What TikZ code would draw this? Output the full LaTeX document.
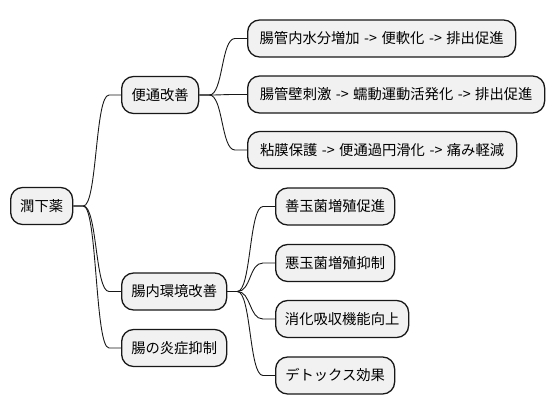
\documentclass[tikz,border=0pt]{standalone}
\usepackage{fontspec}
\setmainfont{Noto Sans CJK JP}
\usetikzlibrary{calc}
\definecolor{boxfill}{HTML}{F1F1F1}
\definecolor{boxline}{HTML}{181818}
\newcommand\arw{\hspace{4.5pt}->\hspace{4.5pt}}
\tikzset{
  mmbox/.style={draw=boxline, fill=boxfill, line width=1.3pt, rounded corners=12pt,
    minimum height=37pt, inner xsep=0pt, inner ysep=0pt, anchor=west,
    font=\fontsize{14.3pt}{17pt}\selectfont, text=black},
  edge/.style={draw=boxline, line width=0.9pt}
}
\newcommand\mmconn[2]{\draw[edge] (#1.east) -- ++(10pt,0) .. controls +(14pt,0) and +(-14pt,0) .. ($(#2.west)+(-12pt,0)$) -- (#2.west);}
\begin{document}
\begin{tikzpicture}[x=1pt,y=-1pt]
\useasboundingbox (0,0) rectangle (554,415);
\node[mmbox, minimum width=62pt] (root) at (10,206) {潤下薬};
\node[mmbox, minimum width=77pt] (a) at (121,95) {便通改善};
\node[mmbox, minimum width=105pt] (b) at (121,291.5) {腸内環境改善};
\node[mmbox, minimum width=105pt] (c) at (121,348) {腸の炎症抑制};
\node[mmbox, minimum width=268pt] (a1) at (247,38.5) {腸管内水分増加\arw 便軟化\arw 排出促進};
\node[mmbox, minimum width=297pt] (a2) at (247,94.5) {腸管壁刺激\arw 蠕動運動活発化\arw 排出促進};
\node[mmbox, minimum width=269pt] (a3) at (247,150) {粘膜保護\arw 便通過円滑化\arw 痛み軽減};
\node[mmbox, minimum width=119pt] (b1) at (275,206.5) {善玉菌増殖促進};
\node[mmbox, minimum width=119pt] (b2) at (275,263) {悪玉菌増殖抑制};
\node[mmbox, minimum width=133pt] (b3) at (275,319) {消化吸収機能向上};
\node[mmbox, minimum width=119pt] (b4) at (275,375.5) {デトックス効果};
\mmconn{root}{a}
\mmconn{root}{b}
\mmconn{root}{c}
\mmconn{a}{a1}
\mmconn{a}{a2}
\mmconn{a}{a3}
\mmconn{b}{b1}
\mmconn{b}{b2}
\mmconn{b}{b3}
\mmconn{b}{b4}
\end{tikzpicture}
\end{document}
